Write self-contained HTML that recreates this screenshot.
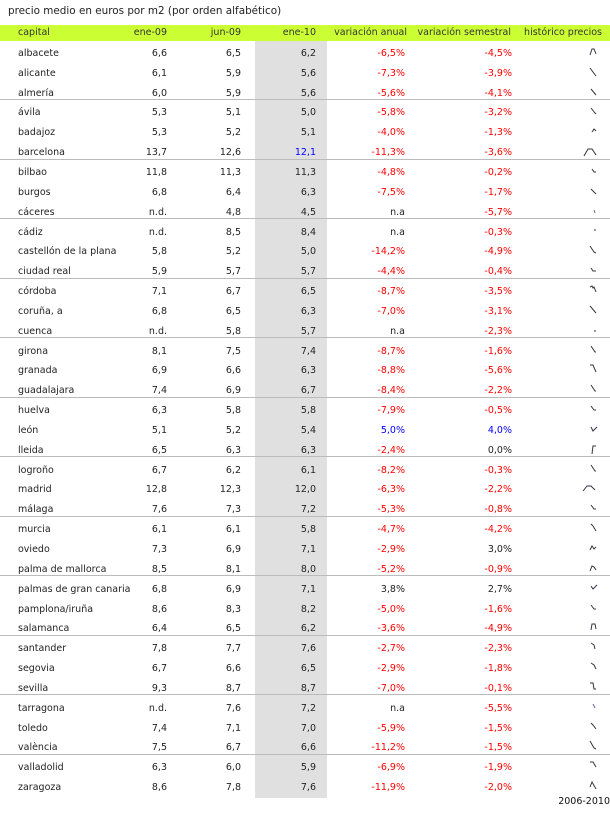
<!DOCTYPE html><html><head><meta charset="utf-8"><style>
body{margin:0;width:610px;height:826px;background:#fff;position:relative;overflow:hidden;font-family:"DejaVu Sans",Verdana,sans-serif;font-size:9.5px;color:#222}
.t{position:absolute;left:8px;top:5px;font-size:10.4px;color:#222}
.h{position:absolute;left:0;top:25px;width:610px;height:16px;background:#ccff33}
.g{position:absolute;left:255px;top:41px;width:72px;height:757px;background:#e0e0e0}
.r{position:absolute;left:0;width:610px;height:20px;line-height:20px}
.r span{position:absolute;top:0;white-space:nowrap}
.c0{left:18px}.c1{right:443px}.c2{right:369px}.c3{right:294px}.c4{right:205px}.c5{right:98px}
.n{color:#f00}.b{color:#00f}
.s{position:absolute;left:586px;top:1px}
.l{position:absolute;left:0;width:610px;height:1px;background:#bbb}
.hd span{color:#333}
</style></head><body>
<div class="t">precio medio en euros por m2 (por orden alfabético)</div>
<div class="h"></div><div class="g"></div>
<div class="r hd" style="top:23px"><span class="c0">capital</span><span class="c1">ene-09</span><span class="c2">jun-09</span><span class="c3">ene-10</span><span style="right:203px">variación anual</span><span style="right:99px">variación semestral</span><span style="right:8px">histórico precios</span></div>
<div class="l" style="top:99px"></div><div class="l" style="top:159px"></div><div class="l" style="top:218px"></div><div class="l" style="top:278px"></div><div class="l" style="top:337px"></div><div class="l" style="top:397px"></div><div class="l" style="top:456px"></div><div class="l" style="top:516px"></div><div class="l" style="top:575px"></div><div class="l" style="top:635px"></div><div class="l" style="top:694px"></div><div class="l" style="top:754px"></div>
<div class="r" style="top:44px"><span class="c0">albacete</span><span class="c1">6,6</span><span class="c2">6,5</span><span class="c3">6,2</span><span class="c4 n">-6,5%</span><span class="c5 n">-4,5%</span><svg class="s" width="16" height="14"><path d="M4,10 L6,4 L8,4 L10,9" fill="none" stroke="#334" stroke-width="1"/></svg></div>
<div class="r" style="top:64px"><span class="c0">alicante</span><span class="c1">6,1</span><span class="c2">5,9</span><span class="c3">5,6</span><span class="c4 n">-7,3%</span><span class="c5 n">-3,9%</span><svg class="s" width="16" height="14"><path d="M4,3 L10,11" fill="none" stroke="#334"/></svg></div>
<div class="r" style="top:84px"><span class="c0">almería</span><span class="c1">6,0</span><span class="c2">5,9</span><span class="c3">5,6</span><span class="c4 n">-5,6%</span><span class="c5 n">-4,1%</span><svg class="s" width="16" height="14"><path d="M5,4 L10,10" fill="none" stroke="#334"/></svg></div>
<div class="r" style="top:103px"><span class="c0">ávila</span><span class="c1">5,3</span><span class="c2">5,1</span><span class="c3">5,0</span><span class="c4 n">-5,8%</span><span class="c5 n">-3,2%</span><svg class="s" width="16" height="14"><path d="M5,4 L9,9 L10,10" fill="none" stroke="#334"/></svg></div>
<div class="r" style="top:123px"><span class="c0">badajoz</span><span class="c1">5,3</span><span class="c2">5,2</span><span class="c3">5,1</span><span class="c4 n">-4,0%</span><span class="c5 n">-1,3%</span><svg class="s" width="16" height="14"><path d="M6,8 L8,5 L10,7" fill="none" stroke="#334"/></svg></div>
<div class="r" style="top:143px"><span class="c0">barcelona</span><span class="c1">13,7</span><span class="c2">12,6</span><span class="c3 b">12,1</span><span class="c4 n">-11,3%</span><span class="c5 n">-3,6%</span><svg class="s" style="left:582px" width="20" height="14"><path d="M2,12 L6,5 L10,5 L14,11" fill="none" stroke="#334"/></svg></div>
<div class="r" style="top:163px"><span class="c0">bilbao</span><span class="c1">11,8</span><span class="c2">11,3</span><span class="c3">11,3</span><span class="c4 n">-4,8%</span><span class="c5 n">-0,2%</span><svg class="s" width="16" height="14"><path d="M6,5 L8,8 L10,8" fill="none" stroke="#334"/></svg></div>
<div class="r" style="top:183px"><span class="c0">burgos</span><span class="c1">6,8</span><span class="c2">6,4</span><span class="c3">6,3</span><span class="c4 n">-7,5%</span><span class="c5 n">-1,7%</span><svg class="s" width="16" height="14"><path d="M5,5 L10,10" fill="none" stroke="#334"/></svg></div>
<div class="r" style="top:203px"><span class="c0">cáceres</span><span class="c1">n.d.</span><span class="c2">4,8</span><span class="c3">4,5</span><span class="c4">n.a</span><span class="c5 n">-5,7%</span><svg class="s" width="16" height="14"><path d="M8,6 L9,9" fill="none" stroke="#669"/></svg></div>
<div class="r" style="top:223px"><span class="c0">cádiz</span><span class="c1">n.d.</span><span class="c2">8,5</span><span class="c3">8,4</span><span class="c4">n.a</span><span class="c5 n">-0,3%</span><svg class="s" width="16" height="14"><path d="M8,6 L10,6" fill="none" stroke="#334"/></svg></div>
<div class="r" style="top:242px"><span class="c0">castellón de la plana</span><span class="c1">5,8</span><span class="c2">5,2</span><span class="c3">5,0</span><span class="c4 n">-14,2%</span><span class="c5 n">-4,9%</span><svg class="s" width="16" height="14"><path d="M4,3 L8,9 L10,10" fill="none" stroke="#334"/></svg></div>
<div class="r" style="top:262px"><span class="c0">ciudad real</span><span class="c1">5,9</span><span class="c2">5,7</span><span class="c3">5,7</span><span class="c4 n">-4,4%</span><span class="c5 n">-0,4%</span><svg class="s" width="16" height="14"><path d="M5,5 L7,8 L10,8" fill="none" stroke="#334"/></svg></div>
<div class="r" style="top:282px"><span class="c0">córdoba</span><span class="c1">7,1</span><span class="c2">6,7</span><span class="c3">6,5</span><span class="c4 n">-8,7%</span><span class="c5 n">-3,5%</span><svg class="s" width="16" height="14"><path d="M4,4 L6,3 L7,5 L8,4 L10,9" fill="none" stroke="#334"/></svg></div>
<div class="r" style="top:302px"><span class="c0">coruña, a</span><span class="c1">6,8</span><span class="c2">6,5</span><span class="c3">6,3</span><span class="c4 n">-7,0%</span><span class="c5 n">-3,1%</span><svg class="s" width="16" height="14"><path d="M4,3 L10,10" fill="none" stroke="#334"/></svg></div>
<div class="r" style="top:322px"><span class="c0">cuenca</span><span class="c1">n.d.</span><span class="c2">5,8</span><span class="c3">5,7</span><span class="c4">n.a</span><span class="c5 n">-2,3%</span><svg class="s" width="16" height="14"><path d="M8,8 L10,8" fill="none" stroke="#334"/></svg></div>
<div class="r" style="top:342px"><span class="c0">girona</span><span class="c1">8,1</span><span class="c2">7,5</span><span class="c3">7,4</span><span class="c4 n">-8,7%</span><span class="c5 n">-1,6%</span><svg class="s" width="16" height="14"><path d="M5,3 L9,9 L10,9" fill="none" stroke="#334"/></svg></div>
<div class="r" style="top:361px"><span class="c0">granada</span><span class="c1">6,9</span><span class="c2">6,6</span><span class="c3">6,3</span><span class="c4 n">-8,8%</span><span class="c5 n">-5,6%</span><svg class="s" width="16" height="14"><path d="M4,3 L7,3 L10,10" fill="none" stroke="#334"/></svg></div>
<div class="r" style="top:381px"><span class="c0">guadalajara</span><span class="c1">7,4</span><span class="c2">6,9</span><span class="c3">6,7</span><span class="c4 n">-8,4%</span><span class="c5 n">-2,2%</span><svg class="s" width="16" height="14"><path d="M5,3 L9,9 L10,9" fill="none" stroke="#334"/></svg></div>
<div class="r" style="top:401px"><span class="c0">huelva</span><span class="c1">6,3</span><span class="c2">5,8</span><span class="c3">5,8</span><span class="c4 n">-7,9%</span><span class="c5 n">-0,5%</span><svg class="s" width="16" height="14"><path d="M5,4 L8,8 L10,8" fill="none" stroke="#334"/></svg></div>
<div class="r" style="top:421px"><span class="c0">león</span><span class="c1">5,1</span><span class="c2">5,2</span><span class="c3">5,4</span><span class="c4 b">5,0%</span><span class="c5 b">4,0%</span><svg class="s" width="16" height="14"><path d="M5,5 L7,9 L11,5" fill="none" stroke="#334"/></svg></div>
<div class="r" style="top:441px"><span class="c0">lleida</span><span class="c1">6,5</span><span class="c2">6,3</span><span class="c3">6,3</span><span class="c4 n">-2,4%</span><span class="c5">0,0%</span><svg class="s" width="16" height="14"><path d="M6,12 L7,4 L10,4" fill="none" stroke="#334"/></svg></div>
<div class="r" style="top:461px"><span class="c0">logroño</span><span class="c1">6,7</span><span class="c2">6,2</span><span class="c3">6,1</span><span class="c4 n">-8,2%</span><span class="c5 n">-0,3%</span><svg class="s" width="16" height="14"><path d="M5,3 L9,9 L10,9" fill="none" stroke="#334"/></svg></div>
<div class="r" style="top:480px"><span class="c0">madrid</span><span class="c1">12,8</span><span class="c2">12,3</span><span class="c3">12,0</span><span class="c4 n">-6,3%</span><span class="c5 n">-2,2%</span><svg class="s" style="left:582px" width="20" height="14"><path d="M1,10 L5,5 L9,5 L13,9" fill="none" stroke="#334"/></svg></div>
<div class="r" style="top:500px"><span class="c0">málaga</span><span class="c1">7,6</span><span class="c2">7,3</span><span class="c3">7,2</span><span class="c4 n">-5,3%</span><span class="c5 n">-0,8%</span><svg class="s" width="16" height="14"><path d="M5,4 L8,8 L10,8" fill="none" stroke="#334"/></svg></div>
<div class="r" style="top:520px"><span class="c0">murcia</span><span class="c1">6,1</span><span class="c2">6,1</span><span class="c3">5,8</span><span class="c4 n">-4,7%</span><span class="c5 n">-4,2%</span><svg class="s" width="16" height="14"><path d="M5,3 L7,5 L10,10" fill="none" stroke="#334"/></svg></div>
<div class="r" style="top:540px"><span class="c0">oviedo</span><span class="c1">7,3</span><span class="c2">6,9</span><span class="c3">7,1</span><span class="c4 n">-2,9%</span><span class="c5">3,0%</span><svg class="s" width="16" height="14"><path d="M4,9 L6,5 L8,8 L10,6" fill="none" stroke="#334"/></svg></div>
<div class="r" style="top:560px"><span class="c0">palma de mallorca</span><span class="c1">8,5</span><span class="c2">8,1</span><span class="c3">8,0</span><span class="c4 n">-5,2%</span><span class="c5 n">-0,9%</span><svg class="s" width="16" height="14"><path d="M4,10 L6,5 L8,6 L10,9" fill="none" stroke="#334"/></svg></div>
<div class="r" style="top:580px"><span class="c0">palmas de gran canaria</span><span class="c1">6,8</span><span class="c2">6,9</span><span class="c3">7,1</span><span class="c4">3,8%</span><span class="c5">2,7%</span><svg class="s" width="16" height="14"><path d="M5,5 L7,8 L11,4" fill="none" stroke="#334"/></svg></div>
<div class="r" style="top:600px"><span class="c0">pamplona/iruña</span><span class="c1">8,6</span><span class="c2">8,3</span><span class="c3">8,2</span><span class="c4 n">-5,0%</span><span class="c5 n">-1,6%</span><svg class="s" width="16" height="14"><path d="M5,4 L8,8 L10,8" fill="none" stroke="#334"/></svg></div>
<div class="r" style="top:619px"><span class="c0">salamanca</span><span class="c1">6,4</span><span class="c2">6,5</span><span class="c3">6,2</span><span class="c4 n">-3,6%</span><span class="c5 n">-4,9%</span><svg class="s" width="16" height="14"><path d="M5,10 L6,4 L9,4 L10,9" fill="none" stroke="#334"/></svg></div>
<div class="r" style="top:639px"><span class="c0">santander</span><span class="c1">7,8</span><span class="c2">7,7</span><span class="c3">7,6</span><span class="c4 n">-2,7%</span><span class="c5 n">-2,3%</span><svg class="s" width="16" height="14"><path d="M5,3 L8,5 L9,9" fill="none" stroke="#334"/></svg></div>
<div class="r" style="top:659px"><span class="c0">segovia</span><span class="c1">6,7</span><span class="c2">6,6</span><span class="c3">6,5</span><span class="c4 n">-2,9%</span><span class="c5 n">-1,8%</span><svg class="s" width="16" height="14"><path d="M5,3 L8,5 L10,9" fill="none" stroke="#334"/></svg></div>
<div class="r" style="top:679px"><span class="c0">sevilla</span><span class="c1">9,3</span><span class="c2">8,7</span><span class="c3">8,7</span><span class="c4 n">-7,0%</span><span class="c5 n">-0,1%</span><svg class="s" width="16" height="14"><path d="M4,3 L7,3 L8,9 L10,9" fill="none" stroke="#334"/></svg></div>
<div class="r" style="top:699px"><span class="c0">tarragona</span><span class="c1">n.d.</span><span class="c2">7,6</span><span class="c3">7,2</span><span class="c4">n.a</span><span class="c5 n">-5,5%</span><svg class="s" width="16" height="14"><path d="M7,4 L9,8" fill="none" stroke="#669"/></svg></div>
<div class="r" style="top:719px"><span class="c0">toledo</span><span class="c1">7,4</span><span class="c2">7,1</span><span class="c3">7,0</span><span class="c4 n">-5,9%</span><span class="c5 n">-1,5%</span><svg class="s" width="16" height="14"><path d="M5,3 L7,5 L10,9" fill="none" stroke="#334"/></svg></div>
<div class="r" style="top:738px"><span class="c0">valència</span><span class="c1">7,5</span><span class="c2">6,7</span><span class="c3">6,6</span><span class="c4 n">-11,2%</span><span class="c5 n">-1,5%</span><svg class="s" width="16" height="14"><path d="M4,2 L8,9 L10,10" fill="none" stroke="#334"/></svg></div>
<div class="r" style="top:758px"><span class="c0">valladolid</span><span class="c1">6,3</span><span class="c2">6,0</span><span class="c3">5,9</span><span class="c4 n">-6,9%</span><span class="c5 n">-1,9%</span><svg class="s" width="16" height="14"><path d="M4,3 L7,3 L10,8" fill="none" stroke="#334"/></svg></div>
<div class="r" style="top:778px"><span class="c0">zaragoza</span><span class="c1">8,6</span><span class="c2">7,8</span><span class="c3">7,6</span><span class="c4 n">-11,9%</span><span class="c5 n">-2,0%</span><svg class="s" width="16" height="14"><path d="M4,8 L6,3 L10,10" fill="none" stroke="#334"/></svg></div>
<div style="position:absolute;right:0;top:796px;font-size:9.5px;color:#111">2006-2010</div>
</body></html>
